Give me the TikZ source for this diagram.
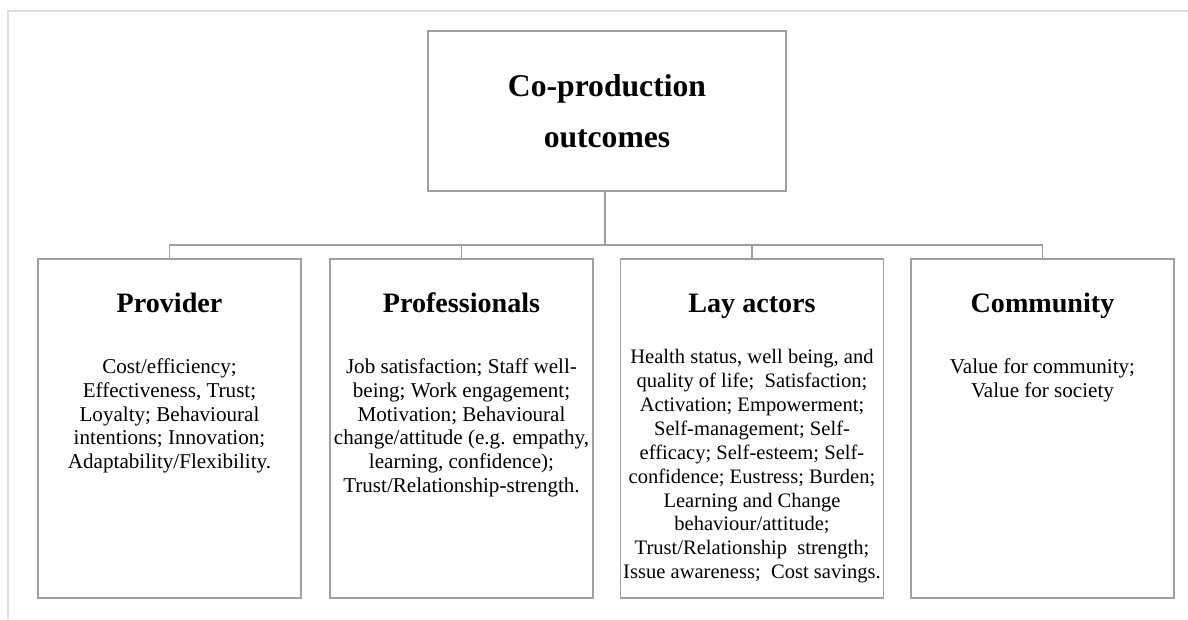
\documentclass[tikz,border=0pt]{standalone}
\usepackage{fontspec}
\setmainfont{Liberation Serif}
\usetikzlibrary{positioning}

\definecolor{boxgray}{RGB}{160,160,160}
\definecolor{framegray}{RGB}{222,222,222}

\begin{document}
\begin{tikzpicture}[box/.style={draw=boxgray,line width=0.8pt,minimum width=5.26cm,minimum height=6.78cm},
        head/.style={font=\fontsize{16}{19}\selectfont\bfseries,anchor=base},
        body/.style={font=\fontsize{12}{13.6}\selectfont,align=center,anchor=north,inner sep=0pt},
        conn/.style={draw=boxgray,line width=0.8pt}]

        \useasboundingbox (0,0) rectangle (23.76,-12.38);
        % page frame
        \draw[framegray,line width=1pt] (0.16,-12.38) -- (0.16,-0.22) -- (23.76,-0.22);

        \node [draw=boxgray,line width=0.8pt,minimum width=7.16cm,minimum height=3.2cm] at (12.14,-2.22) (top) {};
        \node [font=\fontsize{18}{29}\selectfont\bfseries,align=center] at (top.center) (title) {Co-production\\outcomes};

        \node [box] at (3.39,-8.57) (prov) {};
        \node [box] at (9.23,-8.57) (prof) {};
        \node [box] at (15.04,-8.57) (lay) {};
        \node [box] at (20.85,-8.57) (comm) {};

        \node [head] at (3.39,-6.24) (provHead) {Provider};
        \node [head] at (9.23,-6.24) (profHead) {Professionals};
        \node [head] at (15.04,-6.24) (layHead) {Lay actors};
        \node [head] at (20.85,-6.24) (commHead) {Community};

        \node [body] at (3.39,-7.16) (provBody) {Cost/efficiency;\\Effectiveness, Trust;\\Loyalty; Behavioural\\intentions; Innovation;\\Adaptability/Flexibility.};
        \node [body] at (9.23,-7.16) (profBody) {Job satisfaction; Staff well-\\being; Work engagement;\\Motivation; Behavioural\\change/attitude (e.g. empathy,\\learning, confidence);\\Trust/Relationship-strength.};
        \node [body,font=\fontsize{11.7}{13.6}\selectfont] at (15.04,-6.98) (layBody) {Health status, well being, and\\quality of life;\ \ Satisfaction;\\Activation; Empowerment;\\Self-management; Self-\\efficacy; Self-esteem; Self-\\confidence; Eustress; Burden;\\Learning and Change\\behaviour/attitude;\\Trust/Relationship\ \ strength;\\Issue awareness;\ \ Cost savings.};
        \node [body] at (20.85,-7.16) (commBody) {Value for community;\\Value for society};

        % tree connectors
        \coordinate (hub) at (12.1,-4.9);
        \draw[conn] (top.south -| hub) -- (hub);
        \foreach \b in {prov,prof,lay,comm}
          \draw[conn] (hub) -| (\b.north);

      \end{tikzpicture}
\end{document}
